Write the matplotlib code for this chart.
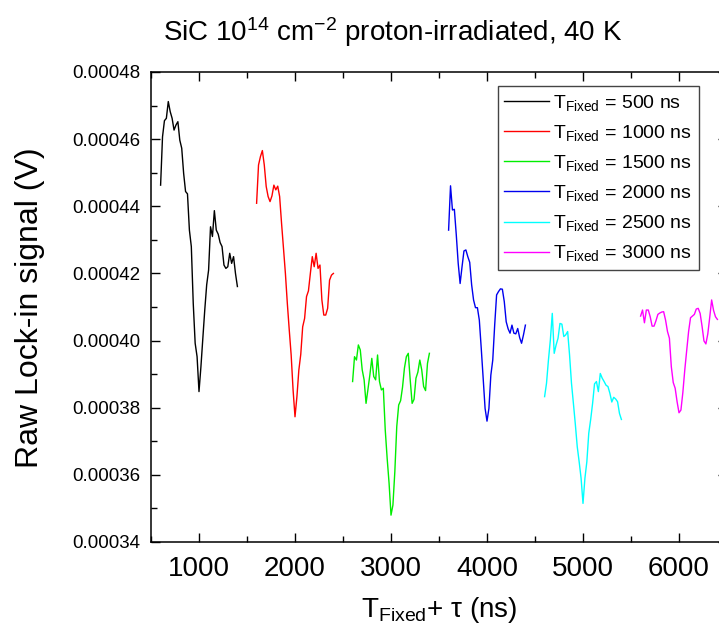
import numpy as np
import matplotlib
matplotlib.use("Agg")
import matplotlib.pyplot as plt
from matplotlib.ticker import MultipleLocator

plt.rcParams['font.family'] = ['Liberation Sans', 'DejaVu Sans']
plt.rcParams['mathtext.fontset'] = 'custom'
plt.rcParams['mathtext.rm'] = 'Liberation Sans'
plt.rcParams['mathtext.it'] = 'Liberation Sans:italic'

# pulse delays (ns); tau is scanned around T_fixed in 20 ns steps
t_fixed = [500, 1000, 1500, 2000, 2500, 3000]
tau_offset = np.arange(-400, 401, 20)

# lock-in signal, units of 1e-5 V
sig_500 = [44.63, 46.07, 46.55, 46.62, 47.12, 46.82, 46.62, 46.27, 46.42, 46.52,
           45.97, 45.73, 44.98, 44.44, 44.37, 43.29, 42.80, 41.11, 39.92, 39.52,
           38.48, 39.22, 40.07, 40.91, 41.66, 42.10, 43.39, 43.10, 43.87, 43.29,
           43.17, 42.92, 42.80, 42.25, 42.15, 42.20, 42.60, 42.30, 42.50, 42.00, 41.61]
sig_1000 = [44.09, 45.23, 45.48, 45.66, 45.23, 44.59, 44.29, 44.14, 44.31, 44.63,
            44.49, 44.60, 44.29, 43.49, 42.75, 42.00, 41.11, 40.32, 39.57, 38.53,
            37.73, 38.33, 39.12, 39.59, 40.41, 40.66, 41.31, 41.48, 42.00, 42.50,
            42.20, 42.60, 42.15, 42.25, 41.21, 40.76, 40.76, 40.96, 41.80, 41.95, 42.00]
sig_1500 = [38.78, 39.52, 39.42, 39.87, 39.72, 39.13, 38.83, 38.13, 38.55, 38.98,
            39.47, 38.93, 38.83, 39.57, 38.78, 38.53, 38.58, 37.34, 36.49, 35.75,
            34.80, 35.10, 36.10, 37.44, 38.08, 38.21, 38.61, 39.18, 39.52, 39.62,
            38.83, 38.13, 38.25, 38.88, 39.06, 39.42, 39.13, 38.63, 38.51, 39.32, 39.62]
sig_2000 = [43.29, 44.61, 43.89, 43.91, 43.15, 42.30, 41.70, 42.20, 42.67, 42.70,
            42.50, 42.33, 41.66, 41.21, 40.98, 40.98, 40.61, 39.77, 38.88, 37.98,
            37.60, 37.98, 38.97, 39.42, 40.46, 41.36, 41.46, 41.54, 41.53, 41.16,
            40.56, 40.35, 40.22, 40.46, 40.22, 40.20, 40.36, 40.09, 39.92, 40.17, 40.46]
sig_2500 = [38.33, 38.73, 39.42, 40.02, 40.81, 39.62, 39.87, 40.07, 40.51, 40.49,
            40.12, 40.17, 40.27, 39.57, 38.73, 38.13, 37.51, 36.84, 36.39, 35.90,
            35.15, 35.90, 36.39, 37.24, 37.65, 38.13, 38.71, 38.78, 38.48, 39.02,
            38.88, 38.78, 38.67, 38.63, 38.43, 38.17, 38.31, 38.26, 38.18, 37.83, 37.65]
sig_3000 = [40.73, 40.91, 40.53, 40.91, 40.91, 40.71, 40.43, 40.43, 40.59, 40.78,
            40.82, 40.85, 40.86, 40.61, 40.27, 40.07, 39.22, 38.75, 38.58, 38.18,
            37.85, 37.93, 38.45, 39.12, 39.70, 40.27, 40.68, 40.73, 40.78, 40.94,
            40.96, 40.81, 40.43, 39.99, 39.90, 40.20, 40.69, 41.21, 40.90, 40.71, 40.63]

signals = [sig_500, sig_1000, sig_1500, sig_2000, sig_2500, sig_3000]
colors = ['#000000', '#ff0000', '#00ee00', '#0000ee', '#00ffff', '#ff00ff']

fig = plt.figure(figsize=(7.19, 6.38), dpi=100)
# axes runs a little past the right edge of the figure, as in the original
ax = fig.add_axes([151 / 719, 96 / 638, 576 / 719, 470 / 638])

for tf, sig, c in zip(t_fixed, signals, colors):
    tau = tf + tau_offset
    ax.plot(tf + tau, np.array(sig) * 1e-5, color=c, lw=1.0,
            label=r'T$_{\mathrm{Fixed}}$ = %d ns' % tf)

ax.set_xlim(500, 6500)
ax.set_ylim(0.00034, 0.00048)
ax.xaxis.set_major_locator(MultipleLocator(1000))
ax.xaxis.set_minor_locator(MultipleLocator(500))
ax.yaxis.set_major_locator(MultipleLocator(0.00002))
ax.yaxis.set_minor_locator(MultipleLocator(0.00001))
ax.yaxis.set_major_formatter(matplotlib.ticker.FuncFormatter(lambda v, p: '%.5f' % v))

ax.tick_params(which='both', direction='in', top=True, right=True, width=1.0)
ax.tick_params(which='major', length=6.5)
ax.tick_params(which='minor', length=4)
ax.tick_params(axis='y', labelsize=13.5, pad=8)
ax.tick_params(axis='x', labelsize=20, pad=10)
for sp in ax.spines.values():
    sp.set_linewidth(1.1)

ax.set_ylabel('Raw Lock-in signal (V)', fontsize=23, va='center')
ax.yaxis.set_label_coords(-0.21, 0.498)
ax.set_xlabel(r'T$_{\mathrm{Fixed}}$+ τ (ns)', fontsize=20, va='center')
ax.xaxis.set_label_coords(0.5, -0.145)

fig.text(393 / 719, 1 - 32 / 638, r'SiC 10$^{14}$ cm$^{-2}$ proton-irradiated, 40 K',
         fontsize=20, ha='center', va='center')

leg = ax.legend(loc='upper right', bbox_to_anchor=(0.951, 0.970), borderaxespad=0,
                fontsize=14, handlelength=2.3, handletextpad=0.2, borderpad=0.35,
                labelspacing=0.52, fancybox=False, framealpha=1)
leg.get_frame().set_edgecolor('#444444')
leg.get_frame().set_linewidth(1.0)

fig.savefig('out.png', dpi=100)
